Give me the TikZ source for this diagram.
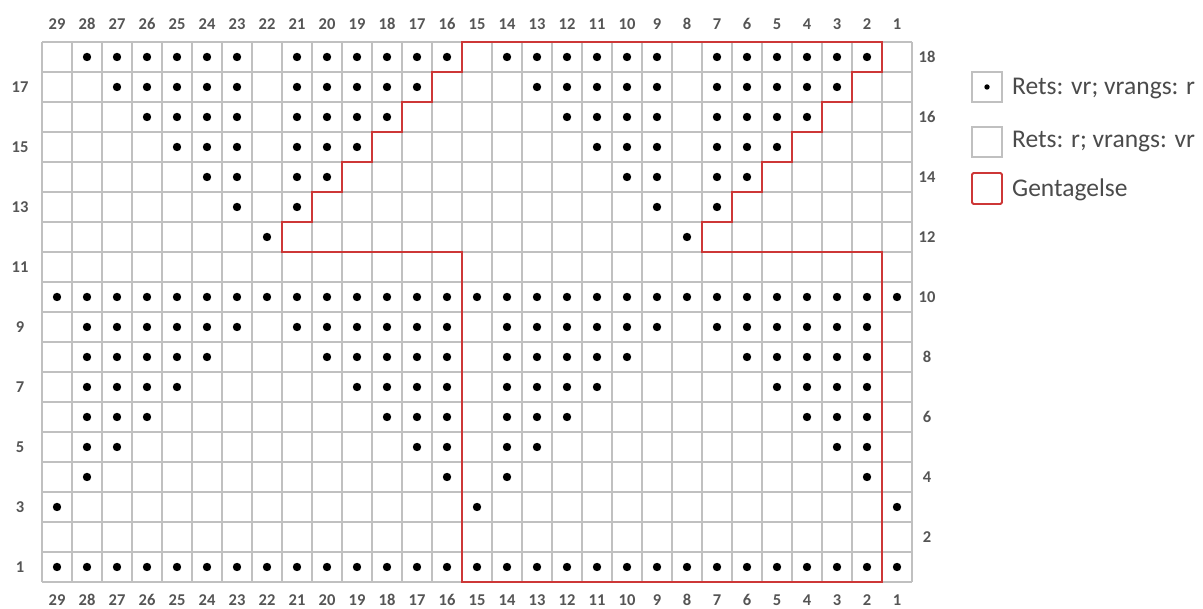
\documentclass[tikz,border=0pt]{standalone}
\usepackage{fontspec}
\setmainfont{Carlito}
\definecolor{gridc}{RGB}{192,192,192}
\definecolor{repred}{RGB}{205,55,55}
\definecolor{numc}{RGB}{85,85,85}
\definecolor{legc}{RGB}{75,75,75}
\begin{document}
\begin{tikzpicture}[x=1pt,y=1pt,
  gridline/.style={draw=gridc,line width=1.3pt},
  stitch/.style={fill=black},
  numlabel/.style={font=\fontsize{16.5}{17}\selectfont\bfseries, text=numc, inner sep=0pt},
  legtext/.style={font=\fontsize{25.5}{28}\selectfont, text=legc, anchor=base west, inner sep=0pt},
  repeatline/.style={draw=repred, line width=1.8pt}]
\useasboundingbox (0,0) rectangle (1203,609);
\fill[white] (0,0) rectangle (1203,609);
\begin{scope}[shift={(42pt,27pt)},x=30pt,y=30pt]
  \foreach \i in {0,...,29} \draw[gridline] (\i,0) -- (\i,18);
  \foreach \j in {0,...,18} \draw[gridline] (0,\j) -- (29,\j);
  \foreach \r/\cl in {
    18/{28,27,26,25,24,23,21,20,19,18,17,16,14,13,12,11,10,9,7,6,5,4,3,2},
    17/{27,26,25,24,23,21,20,19,18,17,13,12,11,10,9,7,6,5,4,3},
    16/{26,25,24,23,21,20,19,18,12,11,10,9,7,6,5,4},
    15/{25,24,23,21,20,19,11,10,9,7,6,5},
    14/{24,23,21,20,10,9,7,6},
    13/{23,21,9,7},
    12/{22,8},
    10/{1,...,29},
    9/{28,27,26,25,24,23,21,20,19,18,17,16,14,13,12,11,10,9,7,6,5,4,3,2},
    8/{28,27,26,25,24,20,19,18,17,16,14,13,12,11,10,6,5,4,3,2},
    7/{28,27,26,25,19,18,17,16,14,13,12,11,5,4,3,2},
    6/{28,27,26,18,17,16,14,13,12,4,3,2},
    5/{28,27,17,16,14,13,3,2},
    4/{28,16,14,2},
    3/{29,15,1},
    1/{1,...,29}}
  {
    \foreach \c in \cl { \fill[stitch] ({29.5-\c},{\r-0.5}) circle[radius=4.2pt]; }
  }
  \draw[repeatline] (14,18) -- (28,18) -- (28,17) -- (27,17) -- (27,16) -- (26,16)
    -- (26,15) -- (25,15) -- (25,14) -- (24,14) -- (24,13) -- (23,13) -- (23,12)
    -- (22,12) -- (22,11) -- (28,11) -- (28,0) -- (14,0) -- (14,11) -- (8,11)
    -- (8,12) -- (9,12) -- (9,13) -- (10,13) -- (10,14) -- (11,14) -- (11,15)
    -- (12,15) -- (12,16) -- (13,16) -- (13,17) -- (14,17) -- cycle;
  \foreach \c in {1,...,29} {
    \node[numlabel] (top\c) at ({29.5-\c},18.6) {\c};
    \node[numlabel] (bot\c) at ({29.5-\c},-0.6) {\c};
  }
  \foreach \r in {1,3,...,17} \node[numlabel] (left\r) at (-0.73,{\r-0.5}) {\r};
  \foreach \r in {2,4,...,18} \node[numlabel] (right\r) at (29.5,{\r-0.5}) {\r};
\end{scope}
% legend
\draw[gridline] (972,507) rectangle (1002,537);
\fill[stitch] (987,522) circle[radius=2.7pt];
\node[legtext] (leg1) at (1012,514) {Rets: vr; vrangs: r};
\draw[gridline] (972,452) rectangle (1002,482);
\node[legtext] (leg2) at (1012,461) {Rets: r; vrangs: vr};
\draw[repeatline, rounded corners=1.5pt] (972,405) rectangle (1002,436);
\node[legtext] (leg3) at (1012,412) {Gentagelse};
\end{tikzpicture}
\end{document}
